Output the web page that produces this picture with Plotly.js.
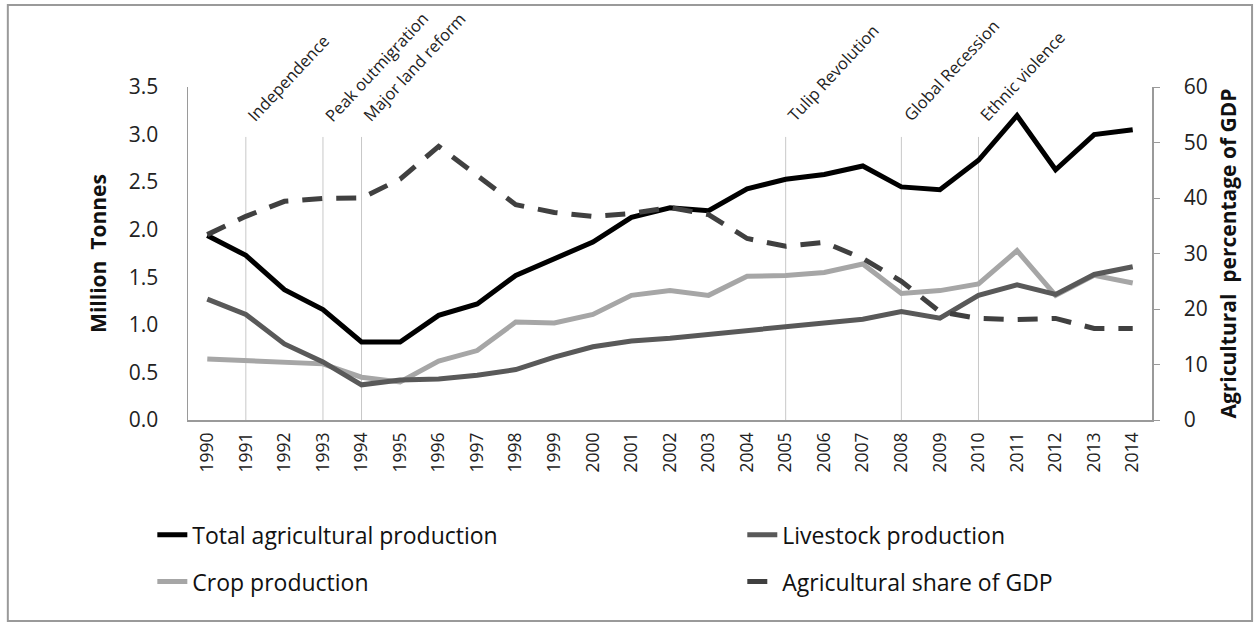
<!DOCTYPE html>
<html>
<head>
<meta charset="utf-8">
<script src="https://cdn.plot.ly/plotly-3.0.1.min.js"></script>
<style>html,body{margin:0;padding:0;background:#fff;}#chart{width:1255px;height:627px;}</style>
</head>
<body>
<div id="chart"></div>
<script>
const years = [1990,1991,1992,1993,1994,1995,1996,1997,1998,1999,2000,2001,2002,2003,2004,2005,2006,2007,2008,2009,2010,2011,2012,2013,2014];
const totalProd = [1.94,1.73,1.37,1.16,0.82,0.82,1.10,1.22,1.52,1.69,1.87,2.13,2.23,2.20,2.43,2.53,2.58,2.67,2.45,2.42,2.73,3.20,2.63,3.00,3.05];
const livestockProd = [1.27,1.11,0.80,0.61,0.37,0.42,0.43,0.47,0.53,0.66,0.77,0.83,0.86,0.90,0.95,0.98,1.02,1.06,1.14,1.07,1.31,1.42,1.32,1.53,1.61];
const cropProd = [0.64,0.62,0.60,0.59,0.45,0.40,0.62,0.73,1.03,1.02,1.11,1.31,1.36,1.31,1.51,1.52,1.55,1.64,1.33,1.36,1.43,1.78,1.31,1.52,1.44];
const gdpShare = [33.4,36.7,39.4,39.9,40.0,43.4,49.3,44.0,38.8,37.4,36.7,37.2,38.3,37.0,32.7,31.3,32.0,29.1,25.0,19.5,18.3,18.1,18.3,16.5,16.5];
const eventYears = [1991,1993,1994,2005,2008,2010];
const eventLabels = ["Independence","Peak outmigration","Major land reform","Tulip Revolution","Global Recession","Ethnic violence"];
const leftTicks = [0,0.5,1,1.5,2,2.5,3,3.5];
const rightTicks = [0,10,20,30,40,50,60];

const FONT = "'Open Sans', Lato, sans-serif";

const traceTotal = {x: years, y: totalProd, name: "Total agricultural production", mode: "lines", line: {color: "#000000", width: 5}, legend: "legend", legendgroup: "a", legendrank: 1};
const traceCrop = {x: years, y: cropProd, name: "Crop production", mode: "lines", line: {color: "#a6a6a6", width: 5}, legend: "legend", legendgroup: "b", legendrank: 2};
const traceLive = {x: years, y: livestockProd, name: "Livestock production", mode: "lines", line: {color: "#595959", width: 5}, legend: "legend2", legendgroup: "c", legendrank: 1};
const traceGdp = {x: years, y: gdpShare, name: "Agricultural share of GDP", mode: "lines", yaxis: "y2", line: {color: "#404040", width: 5, dash: "20px,14px"}, legend: "legend2", legendgroup: "d", legendrank: 2};
const data = [traceGdp, traceCrop, traceLive, traceTotal];

const shapes = eventYears.map(yr => ({
  type: "line", xref: "x", yref: "paper", x0: yr, x1: yr, y0: 0, y1: 0.85,
  line: {color: "#c8c8c8", width: 1}, layer: "below"
}));
shapes.push({type: "rect", xref: "paper", yref: "paper", x0: -0.1869, x1: 1.1038, y0: -0.6036, y1: 1.2462,
  line: {color: "#9a9a9a", width: 2}, fillcolor: "rgba(0,0,0,0)", layer: "below"});

const annotations = eventYears.map((yr, i) => ({
  x: yr - 0.16, y: 0.875, xref: "x", yref: "paper", text: eventLabels[i], showarrow: false,
  textangle: -47, xanchor: "left", yanchor: "bottom", font: {family: FONT, size: 16.5, color: "#222"}
}));

const legendBase = {xanchor: "left", yanchor: "top", orientation: "v", tracegroupgap: 14,
  font: {family: FONT, size: 23, color: "#111"}, bgcolor: "rgba(0,0,0,0)", traceorder: "grouped"};

const layout = {
  width: 1255, height: 627,
  margin: {l: 188, r: 103, t: 87, b: 207},
  paper_bgcolor: "#ffffff", plot_bgcolor: "#ffffff",
  showlegend: true,
  font: {family: FONT, color: "#222"},
  xaxis: {
    range: [1989.5, 2014.5], tickvals: years, ticktext: years.map(String), tickangle: -90,
    showgrid: false, zeroline: false, showline: true, linecolor: "#9a9a9a", linewidth: 1.5,
    ticks: "", tickfont: {family: FONT, size: 17.5, color: "#222"}, ticklabelstandoff: 4
  },
  yaxis: {
    range: [0, 3.5], tickvals: leftTicks, tickformat: ".1f", showgrid: false, zeroline: false,
    showline: true, linecolor: "#9a9a9a", linewidth: 1.5, ticks: "",
    tickfont: {family: FONT, size: 21, color: "#222"}, ticklabelstandoff: 24,
    title: {text: "<b>Million  Tonnes</b>", font: {family: FONT, size: 21, color: "#111"}, standoff: 16}
  },
  yaxis2: {
    range: [0, 60], tickvals: rightTicks, overlaying: "y", side: "right", showgrid: false, zeroline: false,
    showline: true, linecolor: "#9a9a9a", linewidth: 1.5, ticks: "outside", ticklen: 6, tickcolor: "#9a9a9a",
    tickfont: {family: FONT, size: 21, color: "#222"}, ticklabelstandoff: 20,
    title: {text: "<b>Agricultural  percentage of GDP</b>", font: {family: FONT, size: 21, color: "#111"}, standoff: 14}
  },
  legend: Object.assign({x: -0.037, y: -0.28}, legendBase),
  legend2: Object.assign({x: 0.575, y: -0.28}, legendBase),
  shapes: shapes,
  annotations: annotations
};

Plotly.newPlot("chart", data, layout, {displayModeBar: false, staticPlot: true});
</script>
</body>
</html>
